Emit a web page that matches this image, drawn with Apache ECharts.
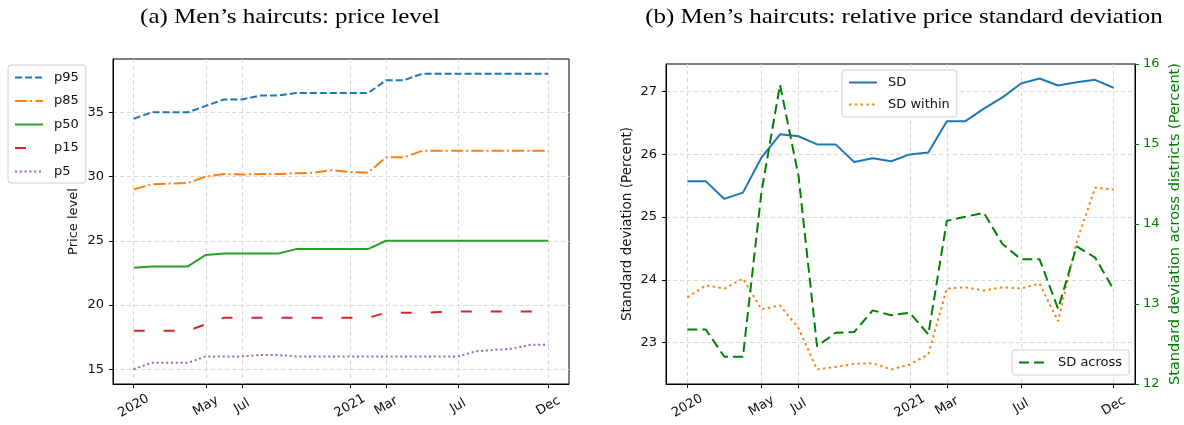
<!DOCTYPE html>
<html>
<head>
<meta charset="utf-8">
<script src="https://cdn.jsdelivr.net/npm/echarts@6/dist/echarts.min.js"></script>
<style>
  html, body { margin: 0; padding: 0; background: #fff; }
  #chart { width: 1184px; height: 425px; }
</style>
</head>
<body>
<div id="chart"></div>
<script>
// Monthly observations, Jan 2020 – Dec 2021
const months = ['2020-01','2020-02','2020-03','2020-04','2020-05','2020-06','2020-07','2020-08','2020-09','2020-10','2020-11','2020-12',
                '2021-01','2021-02','2021-03','2021-04','2021-05','2021-06','2021-07','2021-08','2021-09','2021-10','2021-11','2021-12'];

// Date ticks and their labels
const tickMonths = ['2020-01','2020-05','2020-07','2021-01','2021-03','2021-07','2021-12'];
const tickLabels = ['2020','May','Jul','2021','Mar','Jul','Dec'];

// (a) price level percentiles
const p95 = [34.5, 35.0, 35.0, 35.0, 35.5, 36.0, 36.0, 36.3, 36.3, 36.5, 36.5, 36.5, 36.5, 36.5, 37.5, 37.5, 38.0, 38.0, 38.0, 38.0, 38.0, 38.0, 38.0, 38.0];
const p85 = [29.0, 29.4, 29.45, 29.5, 30.0, 30.2, 30.15, 30.2, 30.2, 30.25, 30.3, 30.5, 30.35, 30.3, 31.5, 31.5, 32.0, 32.0, 32.0, 32.0, 32.0, 32.0, 32.0, 32.0];
const p50 = [22.9, 23.0, 23.0, 23.0, 23.9, 24.0, 24.0, 24.0, 24.0, 24.35, 24.35, 24.35, 24.35, 24.35, 25.0, 25.0, 25.0, 25.0, 25.0, 25.0, 25.0, 25.0, 25.0, 25.0];
const p15 = [18.0, 18.0, 18.0, 18.0, 18.5, 19.0, 19.0, 19.0, 19.0, 19.0, 19.0, 19.0, 19.0, 19.0, 19.4, 19.4, 19.4, 19.45, 19.5, 19.5, 19.5, 19.5, 19.5, 19.5];
const p5  = [15.0, 15.5, 15.5, 15.5, 16.0, 16.0, 16.0, 16.1, 16.1, 16.0, 16.0, 16.0, 16.0, 16.0, 16.0, 16.0, 16.0, 16.0, 16.0, 16.4, 16.5, 16.6, 16.9, 16.9];
const priceTicks = [15, 20, 25, 30, 35];

// (b) relative price standard deviation (percent)
const sd       = [25.57, 25.57, 25.29, 25.39, 25.95, 26.32, 26.29, 26.16, 26.16, 25.88, 25.94, 25.89, 26.0, 26.03, 26.53, 26.53, 26.73, 26.91, 27.13, 27.21, 27.1, 27.15, 27.19, 27.06];
const sdWithin = [23.72, 23.91, 23.86, 24.02, 23.53, 23.59, 23.23, 22.57, 22.61, 22.66, 22.67, 22.57, 22.65, 22.81, 23.86, 23.88, 23.83, 23.88, 23.86, 23.94, 23.34, 24.6, 25.47, 25.44];
const sdAcross = [12.68, 12.68, 12.34, 12.34, 14.4, 15.74, 14.6, 12.47, 12.64, 12.65, 12.92, 12.86, 12.89, 12.62, 14.04, 14.09, 14.14, 13.75, 13.56, 13.56, 12.94, 13.72, 13.58, 13.18];
const sdTicks = [23, 24, 25, 26, 27];

const FONT = 'DejaVu Sans';
const GRID_LINE = { color: '#d9d9d9', type: [4, 3], width: 1 };
const tickIdx = tickMonths.map(m => months.indexOf(m));
const pairs = arr => arr.map((v, i) => [i, v]);

// 5% padding on both ends of an extent
function padded(arrays, frac) {
  const all = [].concat(...arrays);
  const lo = Math.min(...all), hi = Math.max(...all);
  const pad = (hi - lo) * frac;
  return [lo - pad, hi + pad];
}
const xPad = (months.length - 1) * 0.05;
const priceExt = padded([p95, p85, p50, p15, p5], 0.05);
const sdExt = padded([sd, sdWithin], 0.05);

function dateAxis(gridIndex) {
  return {
    type: 'value', gridIndex,
    min: -xPad, max: months.length - 1 + xPad,
    axisLine: { show: true, onZero: false, lineStyle: { color: '#000', width: 1 } },
    axisTick: { show: true, customValues: tickIdx, length: 4, lineStyle: { color: '#000' } },
    axisLabel: {
      customValues: tickIdx,
      formatter: v => tickLabels[tickIdx.indexOf(Math.round(v))] || '',
      rotate: 30, align: 'center', verticalAlign: 'middle', margin: 22,
      fontFamily: FONT, fontSize: 13, color: '#111'
    },
    splitLine: { show: true, lineStyle: GRID_LINE }
  };
}

function valueAxis(gridIndex, ext, ticks, name, nameGap, nameSize) {
  return {
    type: 'value', gridIndex,
    min: ext[0], max: ext[1],
    name, nameLocation: 'middle', nameGap,
    nameTextStyle: { fontFamily: FONT, fontSize: nameSize, color: '#111' },
    axisLine: { show: true, onZero: false, lineStyle: { color: '#000', width: 1 } },
    axisTick: { show: true, customValues: ticks, length: 4, lineStyle: { color: '#000' } },
    axisLabel: { customValues: ticks, margin: 9, fontFamily: FONT, fontSize: 13, color: '#111' },
    splitLine: { show: true, lineStyle: GRID_LINE }
  };
}

function line(name, data, xi, yi, color, dash, width) {
  return {
    name, type: 'line', xAxisIndex: xi, yAxisIndex: yi,
    data: pairs(data), symbol: 'none', showSymbol: false, animation: false,
    lineStyle: { color, width: width || 2, type: dash },
    itemStyle: { color }
  };
}

const legendBox = {
  orient: 'vertical', backgroundColor: '#fff',
  borderColor: '#d0d0d0', borderWidth: 1, borderRadius: 3,
  itemWidth: 28, itemHeight: 12, itemGap: 10.5,
  itemStyle: { color: 'rgba(0,0,0,0)', borderColor: 'rgba(0,0,0,0)', borderWidth: 0, opacity: 0 },
  textStyle: { fontFamily: FONT, fontSize: 13, color: '#111', padding: [0, 0, 0, 6] },
  padding: [6, 7, 5, 6]
};

const chart = echarts.init(document.getElementById('chart'), null, { renderer: 'canvas' });
chart.setOption({
  animation: false,
  backgroundColor: '#fff',
  grid: [
    { left: 113, top: 59, width: 456, height: 325, show: true, borderColor: '#000', borderWidth: 1 },
    { left: 666, top: 64, width: 469, height: 320, show: true, borderColor: '#000', borderWidth: 1 }
  ],
  xAxis: [dateAxis(0), dateAxis(1)],
  yAxis: [
    valueAxis(0, priceExt, priceTicks, 'Price level', 33, 13),
    valueAxis(1, sdExt, sdTicks, 'Standard deviation (Percent)', 32, 13.5),
    {
      type: 'value', gridIndex: 1, position: 'right',
      min: 12, max: 16, interval: 1,
      name: 'Standard deviation across districts (Percent)', nameLocation: 'middle', nameGap: 33,
      nameRotate: 90,
      nameTextStyle: { fontFamily: FONT, fontSize: 14.5, color: '#008000' },
      axisLine: { show: true, onZero: false, lineStyle: { color: '#000', width: 1 } },
      axisTick: { show: true, length: 4, lineStyle: { color: '#008000' } },
      axisLabel: { margin: 8, fontFamily: FONT, fontSize: 13, color: '#008000' },
      splitLine: { show: false }
    }
  ],
  legend: [
    Object.assign({}, legendBox, {
      data: ['p95', 'p85', 'p50', 'p15', 'p5'], left: 8, top: 65
    }),
    Object.assign({}, legendBox, {
      data: ['SD', 'SD within'], left: 842, top: 70, itemGap: 9, padding: [6, 7, 6, 6]
    }),
    Object.assign({}, legendBox, {
      data: ['SD across'], left: 1012, top: 350, padding: [6, 7, 6, 6]
    })
  ],
  series: [
    line('p95', p95, 0, 0, '#1f77b4', [7, 3]),
    line('p85', p85, 0, 0, '#ff7f0e', [12, 3.2, 2, 3.2]),
    line('p50', p50, 0, 0, '#2ca02c', 'solid'),
    line('p15', p15, 0, 0, '#d62728', [11, 19]),
    line('p5',  p5,  0, 0, '#9467bd', [2, 2.8]),
    line('SD', sd, 1, 1, '#1f77b4', 'solid'),
    line('SD within', sdWithin, 1, 1, '#ff7f0e', [2.4, 3.4]),
    line('SD across', sdAcross, 1, 2, '#008000', [10, 5])
  ],
  graphic: [
    { type: 'text', x: 290, y: 7, scaleX: 1.19, style: { text: '(a) Men\u2019s haircuts: price level', font: '21px "Liberation Serif"', fill: '#000', textAlign: 'center' } },
    { type: 'text', x: 904, y: 7, scaleX: 1.19, style: { text: '(b) Men\u2019s haircuts: relative price standard deviation', font: '21px "Liberation Serif"', fill: '#000', textAlign: 'center' } }
  ]
});
</script>
</body>
</html>
